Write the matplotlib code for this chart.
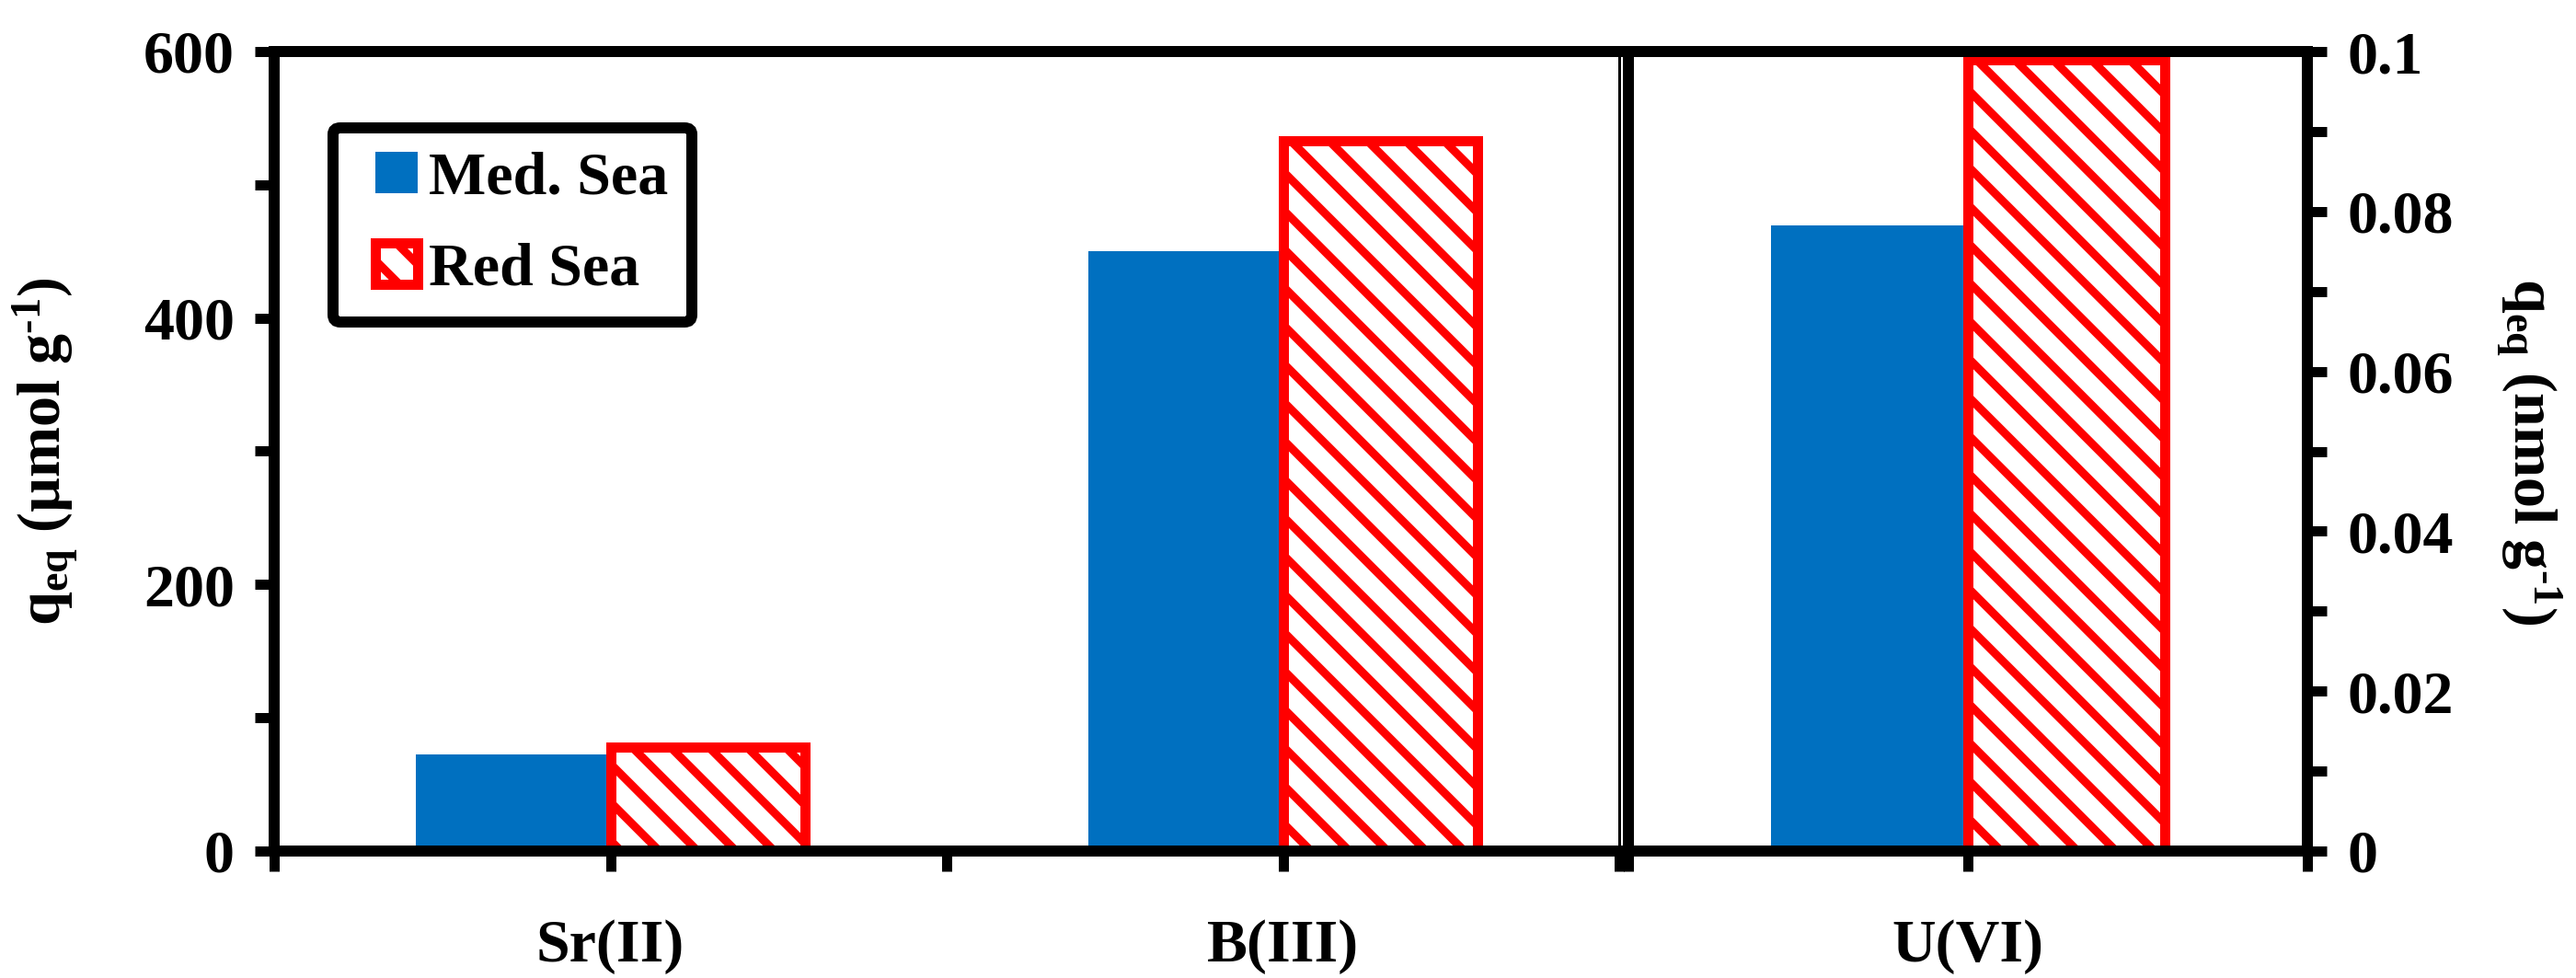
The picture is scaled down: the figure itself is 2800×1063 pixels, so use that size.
import matplotlib

matplotlib.use("Agg")
import matplotlib.pyplot as plt
from matplotlib.patches import Rectangle
from matplotlib.legend_handler import HandlerPatch
from matplotlib.ticker import MultipleLocator, FuncFormatter

# data
left_cats = ["Sr(II)", "B(III)"]
left_med = [72.5, 450]
left_red = [78, 533]

right_cats = ["U(VI)"]
right_med = [0.0783]
right_red = [0.099]

series_names = ["Med. Sea", "Red Sea"]

BLUE = "#0070C0"
RED = "#FF0000"
W, H, DPI = 2800, 1063, 250
FS = 66  # font size in px


def px(v):
    """pixels in the output image -> points"""
    return v * 72.0 / DPI


plt.rcParams["font.family"] = ["Liberation Serif", "DejaVu Serif"]
plt.rcParams["font.weight"] = "bold"
plt.rcParams["font.size"] = px(FS)
plt.rcParams["mathtext.fontset"] = "custom"
plt.rcParams["mathtext.rm"] = "Liberation Serif:bold"
plt.rcParams["mathtext.bf"] = "Liberation Serif:bold"
plt.rcParams["mathtext.it"] = "Liberation Serif:bold"
plt.rcParams["hatch.linewidth"] = px(9)

fig = plt.figure(figsize=(W / DPI, H / DPI), dpi=DPI)
top, base = 56, 925
bottom = 1 - base / H
height = (base - top) / H
ax1 = fig.add_axes([298 / W, bottom, (1760 - 298) / W, height])
ax2 = fig.add_axes([1770 / W, bottom, (2508 - 1770) / W, height])

bw = 0.29


def draw_bars(ax, med, red):
    xs = range(len(med))
    b1 = ax.bar([x - bw / 2 for x in xs], med, bw, color=BLUE, linewidth=0,
                label=series_names[0])
    b2 = ax.bar([x + bw / 2 for x in xs], red, bw, facecolor="white", edgecolor=RED,
                hatch="\\\\", linewidth=px(11), label=series_names[1])
    return b1, b2


h1, h2 = draw_bars(ax1, left_med, left_red)
draw_bars(ax2, right_med, right_red)

# left axes
ax1.set_xlim(-0.5, 1.5)
ax1.set_ylim(0, 600)
ax1.set_xticks([0, 1])
ax1.set_xticklabels(left_cats)
ax1.set_xticks([-0.5, 0.5, 1.5], minor=True)
ax1.yaxis.set_major_locator(MultipleLocator(200))
ax1.yaxis.set_minor_locator(MultipleLocator(100))

# right axes
ax2.set_xlim(-0.5, 0.5)
ax2.set_ylim(0, 0.1)
ax2.set_xticks([0])
ax2.set_xticklabels(right_cats)
ax2.set_xticks([-0.5, 0.5], minor=True)
ax2.yaxis.tick_right()
ax2.yaxis.set_major_locator(MultipleLocator(0.02))
ax2.yaxis.set_minor_locator(MultipleLocator(0.01))
ax2.yaxis.set_major_formatter(FuncFormatter(lambda v, p: "%g" % round(v, 3)))

for ax in (ax1, ax2):
    ax.tick_params(axis="x", which="both", direction="out", length=px(22), width=px(11),
                   pad=px(52))
    ax.tick_params(axis="y", which="both", direction="out", length=px(21), width=px(11),
                   pad=px(22))
    for s in ax.spines.values():
        s.set_linewidth(px(12))
        s.set_zorder(5)

ax1.spines["right"].set_linewidth(px(3))


def small_square(legend, orig_handle, xdescent, ydescent, width, height, fontsize):
    # square legend key pushed to the right end of the handle box
    w = 46.0 / FS * fontsize
    return Rectangle((-xdescent + width - w, -ydescent), w, height)


key = HandlerPatch(patch_func=small_square)
leg = ax1.legend(handles=[h1[0], h2[0]], labels=series_names, loc="upper left",
                 bbox_to_anchor=(0.0438, 0.905),
                 borderaxespad=0, handlelength=1.0, handleheight=0.67,
                 handletextpad=0.17, labelspacing=0.58, borderpad=0.4,
                 fancybox=True, framealpha=1,
                 handler_map={Rectangle: key})
leg.get_frame().set_edgecolor("black")
leg.get_frame().set_linewidth(px(12))
leg.get_frame().set_boxstyle("round", pad=0, rounding_size=0.12)

yc = 1 - (base + top) / 2 / H
fig.text(50 / W, yc, "q$_{\\rm eq}$ (µmol g$^{\\rm \u20101}$)", rotation=90,
         ha="center", va="center")
fig.text(2748 / W, yc, "q$_{\\rm eq}$ (nmol g$^{\\rm \u20101}$)", rotation=270,
         ha="center", va="center")

fig.savefig("out.png", dpi=DPI)
plt.close(fig)
